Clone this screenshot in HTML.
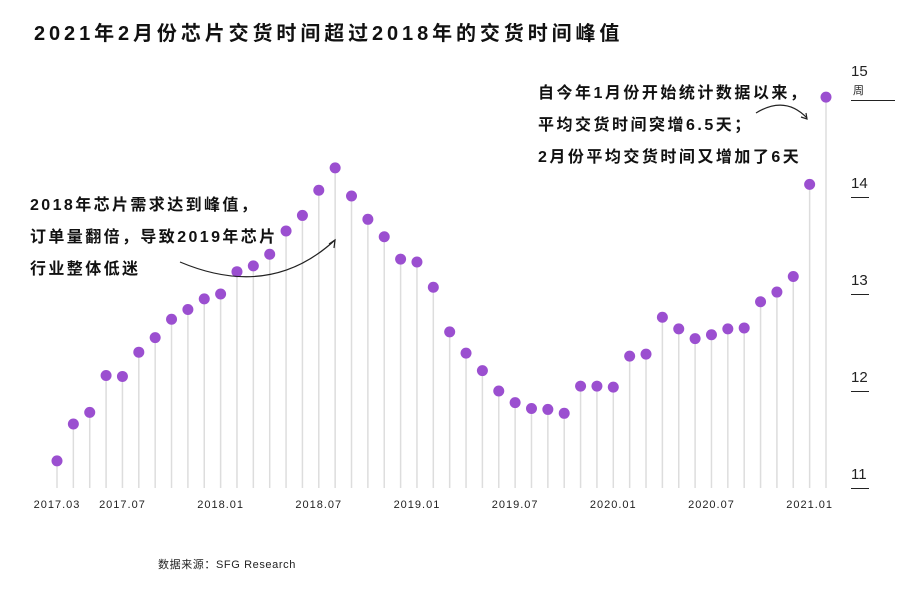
<!DOCTYPE html>
<html><head><meta charset="utf-8"><style>
body{margin:0;background:#fff;}
svg{display:block;font-family:"Liberation Sans","Noto Sans CJK SC",sans-serif;}
</style></head><body>
<svg id="chart" width="912" height="589">
<text x="34" y="40" font-size="20" font-weight="bold" letter-spacing="3.9" fill="#111">2021年2月份芯片交货时间超过2018年的交货时间峰值</text>
<g id="stems"></g><g id="dots"></g><g id="xlabels"></g><g id="yaxis"></g>
<g font-size="16" font-weight="bold" letter-spacing="2.4" fill="#111">
<text x="30" y="210">2018年芯片需求达到峰值，</text>
<text x="30" y="242">订单量翻倍，导致2019年芯片</text>
<text x="30" y="274">行业整体低迷</text>
</g>
<path d="M180 262 Q270 300 335 240" fill="none" stroke="#222" stroke-width="1.2"/>
<path d="M329 244 L335 240 L334 248" fill="none" stroke="#222" stroke-width="1.2"/>
<g font-size="16" font-weight="bold" letter-spacing="2.5" fill="#111">
<text x="538" y="98">自今年1月份开始统计数据以来，</text>
<text x="538" y="130">平均交货时间突增6.5天；</text>
<text x="538" y="162">2月份平均交货时间又增加了6天</text>
</g>
<path d="M756 113 Q785 95 807 118" fill="none" stroke="#222" stroke-width="1.2"/>
<path d="M801 117 L807 119 L806 113" fill="none" stroke="#222" stroke-width="1.2"/>
<text x="158" y="568" font-size="11" letter-spacing="0.6" fill="#222">数据来源：SFG Research</text>
</svg>
<script>
const months=["2017.03","2017.04","2017.05","2017.06","2017.07","2017.08","2017.09","2017.10","2017.11","2017.12","2018.01","2018.02","2018.03","2018.04","2018.05","2018.06","2018.07","2018.08","2018.09","2018.10","2018.11","2018.12","2019.01","2019.02","2019.03","2019.04","2019.05","2019.06","2019.07","2019.08","2019.09","2019.10","2019.11","2019.12","2020.01","2020.02","2020.03","2020.04","2020.05","2020.06","2020.07","2020.08","2020.09","2020.10","2020.11","2020.12","2021.01","2021.02"];
const weeks=[11.28,11.66,11.78,12.16,12.15,12.40,12.55,12.74,12.84,12.95,13.0,13.23,13.29,13.41,13.65,13.81,14.07,14.30,14.01,13.77,13.59,13.36,13.33,13.07,12.61,12.39,12.21,12.0,11.88,11.82,11.81,11.77,12.05,12.05,12.04,12.36,12.38,12.76,12.64,12.54,12.58,12.64,12.65,12.92,13.02,13.18,14.13,15.03];
const xTickLabels=["2017.03","2017.07","2018.01","2018.07","2019.01","2019.07","2020.01","2020.07","2021.01"];
const yTicks=[11,12,13,14,15];
const NS="http://www.w3.org/2000/svg";
const x=i=>57+i*(826-57)/47;
const y=v=>488-(v-11)*97;
function mk(t,a,p){const e=document.createElementNS(NS,t);for(const k in a)e.setAttribute(k,a[k]);document.getElementById(p).appendChild(e);return e;}
weeks.forEach((v,i)=>{
 const s=mk("line",{x1:x(i),x2:x(i),y1:y(v),y2:488,stroke:"#ddd","stroke-width":1.5},"stems");
 
 
 const c=mk("circle",{cx:x(i),cy:y(v),r:5.5,fill:"#9b4fd0"},"dots");
 
 
});
xTickLabels.forEach(l=>{
 const i=months.indexOf(l);
 const t=mk("text",{x:x(i),y:508,"font-size":11,"letter-spacing":1,fill:"#222","text-anchor":"middle"},"xlabels");
 t.textContent=l;
 
 
});
yTicks.forEach(v=>{
 const t=mk("text",{x:851,y:v===15?y(v)-24:y(v)-9,"font-size":15,fill:"#222"},"yaxis");
 t.textContent=v;
 
 
 const l=mk("line",{x1:851,x2:v===15?895:869,y1:y(v)+0.5,y2:y(v)+0.5,stroke:"#222","stroke-width":1},"yaxis");
 
 
});
const u=mk("text",{x:853,y:94,"font-size":11,fill:"#222"},"yaxis");
u.textContent="周";


</script>
</body></html>
